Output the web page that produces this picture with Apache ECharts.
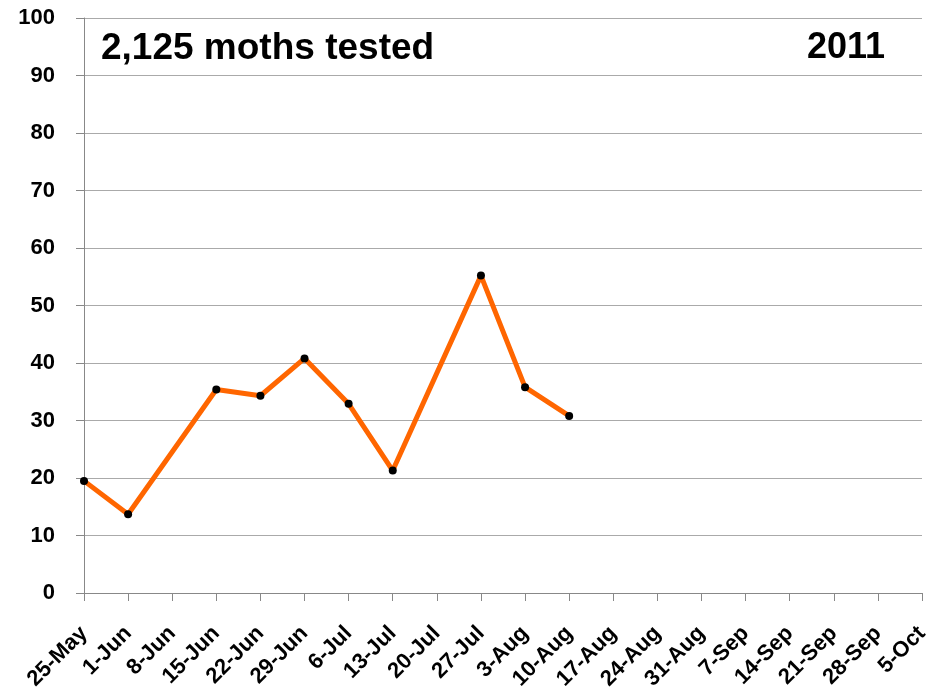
<!DOCTYPE html>
<html>
<head>
<meta charset="utf-8">
<script src="https://cdn.jsdelivr.net/npm/echarts@6/dist/echarts.min.js"></script>
<style>
html,body{margin:0;padding:0;background:#fff;}
#chart{width:935px;height:695px;}
</style>
</head>
<body>
<div id="chart"></div>
<script>
var categories = ['25-May','1-Jun','8-Jun','15-Jun','22-Jun','29-Jun','6-Jul','13-Jul','20-Jul','27-Jul','3-Aug','10-Aug','17-Aug','24-Aug','31-Aug','7-Sep','14-Sep','21-Sep','28-Sep','5-Oct'];
var values = [19.5, 13.7, null, 35.4, 34.3, 40.8, 32.9, 21.3, null, 55.2, 35.8, 30.8, null, null, null, null, null, null, null, null];
var titleText = '2,125 moths tested';
var yearText = '2011';

var chart = echarts.init(document.getElementById('chart'));
var font = 'Liberation Sans, Arial, sans-serif';
chart.setOption({
  animation: false,
  backgroundColor: '#ffffff',
  title: [
    {text: titleText, left: 96, top: 25, textStyle: {fontSize: 37, fontWeight: 'bold', color: '#000', fontFamily: font}},
    {text: yearText, right: 45, top: 25, textStyle: {fontSize: 36, fontWeight: 'bold', color: '#000', fontFamily: font}}
  ],
  grid: {left: 84, right: 13, top: 18, bottom: 102, containLabel: false},
  xAxis: {
    type: 'category',
    data: categories,
    boundaryGap: false,
    axisLine: {lineStyle: {color: '#888', width: 1}},
    axisTick: {show: true, inside: false, length: 8, lineStyle: {color: '#888'}},
    axisLabel: {rotate: 45, interval: 0, margin: 37, fontSize: 22, fontWeight: 'bold', color: '#000', fontFamily: font},
    splitLine: {show: false}
  },
  yAxis: {
    type: 'value',
    min: 0, max: 100, interval: 10,
    axisLine: {show: true, lineStyle: {color: '#888', width: 1}},
    axisTick: {show: true, inside: false, length: 8, lineStyle: {color: '#888'}},
    axisLabel: {margin: 29, fontSize: 22, fontWeight: 'bold', color: '#000', fontFamily: font},
    splitLine: {show: true, lineStyle: {color: '#aaa', width: 1}}
  },
  series: [{
    type: 'line',
    data: values,
    connectNulls: true,
    lineStyle: {color: '#ff6600', width: 5},
    itemStyle: {color: '#000'},
    symbol: 'circle',
    symbolSize: 8,
    showSymbol: true
  }]
});
</script>
</body>
</html>
